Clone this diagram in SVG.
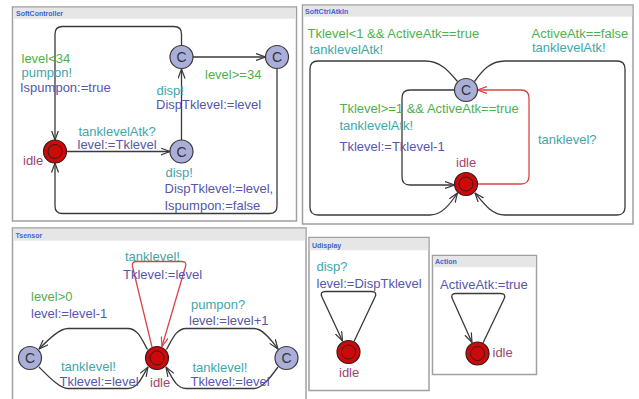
<svg xmlns="http://www.w3.org/2000/svg" width="639" height="399" viewBox="0 0 639 399">
  <style>
    text { font-family: "Liberation Sans", Arial, sans-serif; font-size: 13px; }
    .panel { fill: #ffffff; stroke: #a0a0a0; stroke-width: 1.5; }
    .bar { fill: #e6e6e6; }
    .title { font-size: 7px; font-weight: bold; fill: #3f63d6; }
    .guard { fill: #4fb04f; }
    .sync { fill: #3fa6ab; }
    .assign { fill: #5656ad; }
    .name { fill: #a4426e; }
    .edge { fill: none; stroke: #3a3a3a; stroke-width: 1.3; marker-end: url(#arrow); }
    .edge.red { stroke: #d84545; marker-end: url(#arrowRed); }
    .loc { fill: #cc0a0a; stroke: #3a1a1a; stroke-width: 1.2; }
    .inner { fill: none; stroke: #3a1a1a; stroke-width: 1; }
    .com { fill: #a9afd9; stroke: #3a3a3a; stroke-width: 1.2; }
    .ctext { font-size: 14px; fill: #333333; text-anchor: middle; }
  </style>
  <defs>
    <marker id="arrow" viewBox="0 0 10 8" refX="9.5" refY="4" markerWidth="10" markerHeight="8" markerUnits="userSpaceOnUse" orient="auto">
      <path d="M0,0.5 L9.5,4 L0,7.5" fill="none" stroke="#3a3a3a" stroke-width="1.2"/>
    </marker>
    <marker id="arrowRed" viewBox="0 0 10 8" refX="9.5" refY="4" markerWidth="10" markerHeight="8" markerUnits="userSpaceOnUse" orient="auto">
      <path d="M0,0.5 L9.5,4 L0,7.5" fill="none" stroke="#d84545" stroke-width="1.2"/>
    </marker>
  </defs>
  <rect width="639" height="399" fill="#ffffff"/>

  <!-- ============ SoftController ============ -->
  <g id="softcontroller">
    <rect class="panel" x="12.5" y="7" width="284" height="214"/>
    <rect class="bar" x="13.25" y="7.75" width="282.5" height="11"/>
    <text class="title" x="16" y="15.5">SoftController</text>

    <g id="sc-edges">
      <path class="edge" d="M67 151.5 H170"/>
      <path class="edge" d="M181.5 140 V69"/>
      <path class="edge" d="M193 57 H265.5"/>
      <path class="edge" d="M181.5 45.5 V34 Q181.5 26.5 174 26.5 H62.5 Q55 26.5 55 34 V140"/>
      <path class="edge" d="M277 68.5 V206 Q277 213.5 269.5 213.5 H62.5 Q55 213.5 55 206 V163"/>
    </g>

    <g id="sc-idle">
      <circle class="loc" cx="55" cy="151.5" r="11.5"/>
      <circle class="inner" cx="55" cy="151.5" r="7"/>
      <text class="name" x="23" y="165">idle</text>
    </g>
    <g id="sc-c1">
      <circle class="com" cx="181.5" cy="57" r="11.5"/>
      <text class="ctext" x="181.5" y="62">C</text>
    </g>
    <g id="sc-c2">
      <circle class="com" cx="277" cy="57" r="11.5"/>
      <text class="ctext" x="277" y="62">C</text>
    </g>
    <g id="sc-c3">
      <circle class="com" cx="181.5" cy="151.5" r="11.5"/>
      <text class="ctext" x="181.5" y="156.5">C</text>
    </g>

    <g id="sc-labels">
      <text class="guard" x="21.5" y="62.5">level&lt;34</text>
      <text class="sync" x="21.5" y="76.5">pumpon!</text>
      <text class="assign" x="20" y="92">Ispumpon:=true</text>
      <text class="guard" x="205" y="78.5">level&gt;=34</text>
      <text class="sync" x="156.5" y="95">disp!</text>
      <text class="assign" x="156" y="108.5">DispTklevel:=level</text>
      <text class="sync" x="78.5" y="135.5">tanklevelAtk?</text>
      <text class="assign" x="77.5" y="149">level:=Tklevel</text>
      <text class="sync" x="165.5" y="176.5">disp!</text>
      <text class="assign" x="164.5" y="192.5">DispTklevel:=level,</text>
      <text class="assign" x="164.5" y="210">Ispumpon:=false</text>
    </g>
  </g>

  <!-- ============ SoftCtrlAtkIn ============ -->
  <g id="softctrlatkin">
    <rect class="panel" x="302.5" y="5" width="330.5" height="219"/>
    <rect class="bar" x="303.25" y="5.75" width="329" height="11"/>
    <text class="title" x="305" y="13.5">SoftCtrlAtkIn</text>

    <g id="sa-edges">
      <path class="edge red" d="M477.5 184 H521 Q529 184 529 176 V98 Q529 90 521 90 H477.5"/>
      <path class="edge" d="M454.5 90 H410 Q402 90 402 98 V177 Q402 185 410 185 H454.5"/>
      <path class="edge" d="M457.5 81.5 C448 70 440 61 425 61 H318 Q310 61 310 69 V207 Q310 215 318 215 H430 C442 215 450 204 457.5 193"/>
      <path class="edge" d="M474.5 81.5 C482 71 490 61 505 61 H617 Q625 61 625 69 V207 Q625 215 617 215 H505 C492 215 484 204 475 193"/>
    </g>

    <g id="sa-c">
      <circle class="com" cx="466" cy="90" r="11.5"/>
      <text class="ctext" x="466" y="95">C</text>
    </g>
    <g id="sa-idle">
      <circle class="loc" cx="466" cy="184" r="11.5"/>
      <circle class="inner" cx="466" cy="184" r="7"/>
      <text class="name" x="456" y="167">idle</text>
    </g>

    <g id="sa-labels">
      <text class="guard" x="307.5" y="38">Tklevel&lt;1 &amp;&amp; ActiveAtk==true</text>
      <text class="sync" x="309.5" y="53.5">tanklevelAtk!</text>
      <text class="guard" x="531.5" y="37.5">ActiveAtk==false</text>
      <text class="sync" x="532" y="51.5">tanklevelAtk!</text>
      <text class="guard" x="339.5" y="112.5">Tklevel&gt;=1 &amp;&amp; ActiveAtk==true</text>
      <text class="sync" x="339.5" y="130">tanklevelAtk!</text>
      <text class="assign" x="339.5" y="151">Tklevel:=Tklevel-1</text>
      <text class="sync" x="538" y="143.5">tanklevel?</text>
    </g>
  </g>

  <!-- ============ Tsensor ============ -->
  <g id="tsensor">
    <rect class="panel" x="12.5" y="228" width="293.5" height="185"/>
    <rect class="bar" x="13.25" y="228.75" width="292" height="12"/>
    <text class="title" x="15.5" y="237.5">Tsensor</text>

    <g id="ts-edges">
      <path class="edge red" d="M152 347 L132.5 266.5 Q131.5 261.5 136.5 261.5 H182 Q187 261.5 185.5 266.5 L162 346.5"/>
      <path class="edge" d="M147.5 349.5 C142 340 138 328.5 128 328.5 H68 C60 328.5 50 338 39 349"/>
      <path class="edge" d="M39 367 C50 378 60 388.5 68 388.5 H128 C138 388.5 142 377 148 367"/>
      <path class="edge" d="M166.5 349.5 C172 340 176 328.5 186 328.5 H254 C262 328.5 270 338 278 349"/>
      <path class="edge" d="M278 367 C270 378 262 388.5 254 388.5 H186 C176 388.5 172 377 166 367"/>
    </g>

    <g id="ts-idle">
      <circle class="loc" cx="157" cy="358" r="11.5"/>
      <circle class="inner" cx="157" cy="358" r="7"/>
      <text class="name" x="150" y="386.5">idle</text>
    </g>
    <g id="ts-cleft">
      <circle class="com" cx="30" cy="358" r="11.5"/>
      <text class="ctext" x="30" y="363">C</text>
    </g>
    <g id="ts-cright">
      <circle class="com" cx="286.5" cy="358" r="11.5"/>
      <text class="ctext" x="286.5" y="363">C</text>
    </g>

    <g id="ts-labels">
      <text class="sync" x="125" y="261">tanklevel!</text>
      <text class="assign" x="123" y="278.5">Tklevel:=level</text>
      <text class="guard" x="31" y="301">level&gt;0</text>
      <text class="assign" x="31" y="317.5">level:=level-1</text>
      <text class="sync" x="191" y="309">pumpon?</text>
      <text class="assign" x="189" y="324.5">level:=level+1</text>
      <text class="sync" x="61" y="371">tanklevel!</text>
      <text class="assign" x="59.5" y="385.5">Tklevel:=level</text>
      <text class="sync" x="192.5" y="371.5">tanklevel!</text>
      <text class="assign" x="190.5" y="385.5">Tklevel:=level</text>
    </g>
  </g>

  <!-- ============ Udisplay ============ -->
  <g id="udisplay">
    <rect class="panel" x="309" y="237.5" width="120" height="153"/>
    <rect class="bar" x="309.75" y="238.25" width="118.5" height="12"/>
    <text class="title" x="312" y="247.5">Udisplay</text>
    <g id="ud-edges">
      <path class="edge" d="M354 341.5 L375 297 Q377.5 291.5 371.5 291.5 H325.5 Q319.5 291.5 322 297 L342.5 341"/>
    </g>
    <g id="ud-idle">
      <circle class="loc" cx="348.5" cy="352" r="11.5"/>
      <circle class="inner" cx="348.5" cy="352" r="7"/>
      <text class="name" x="339" y="376.5">idle</text>
    </g>
    <text class="sync" x="316.5" y="271">disp?</text>
    <text class="assign" x="316.5" y="287.5">level:=DispTklevel</text>
  </g>

  <!-- ============ Action ============ -->
  <g id="action">
    <rect class="panel" x="432.5" y="255.5" width="104" height="119"/>
    <rect class="bar" x="433.25" y="256.25" width="102.5" height="11"/>
    <text class="title" x="435" y="263.5">Action</text>
    <g id="ac-edges">
      <path class="edge" d="M483 343 L504 299 Q506.5 293.5 500.5 293.5 H456 Q450 293.5 452.5 299 L472 342.5"/>
    </g>
    <g id="ac-idle">
      <circle class="loc" cx="477.5" cy="353.5" r="11.5"/>
      <circle class="inner" cx="477.5" cy="353.5" r="7"/>
      <text class="name" x="492.5" y="357">idle</text>
    </g>
    <text class="assign" x="440" y="288.5">ActiveAtk:=true</text>
  </g>
</svg>
